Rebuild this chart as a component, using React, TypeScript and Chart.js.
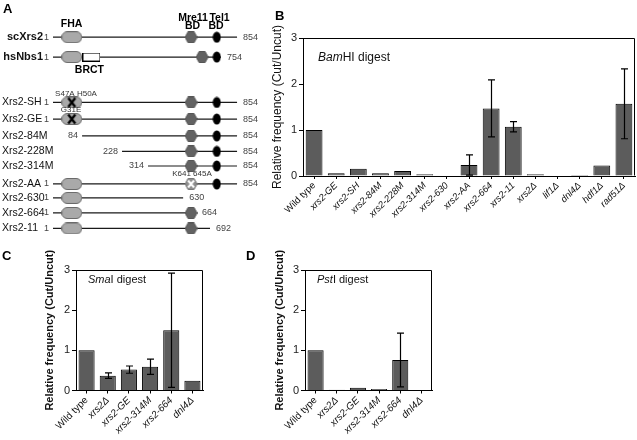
import React, { useEffect, useRef } from 'react';
import { Chart, registerables } from 'chart.js';

Chart.register(...registerables);

const FONT = '"Liberation Sans", Arial, Helvetica, sans-serif';

// ---------- Panel A (schematic; x in schematic units: 0 = residue 1, 100 = full-length end) ----------
const constructNames = ['scXrs2', 'hsNbs1', 'Xrs2-SH', 'Xrs2-GE', 'Xrs2-84M', 'Xrs2-228M', 'Xrs2-314M', 'Xrs2-AA', 'Xrs2-630', 'Xrs2-664', 'Xrs2-11'];
const constructRows = [0, 1.28, 4.21, 5.28, 6.37, 7.37, 8.31, 9.47, 10.37, 11.34, 12.34];
const startLabels = ['1', '1', '1', '1', '84', '228', '314', '1', '1', '1', '1'];
const endLabels = ['854', '754', '854', '854', '854', '854', '854', '854', '630', '664', '692'];
const lineStart = [0, 0, 0, 0, 15.8, 37.5, 51.6, 0, 0, 0, 0];
const lineEnd = [100, 91.3, 100, 100, 100, 100, 100, 100, 70.7, 77.7, 85.3];
const fhaPos = [10.2, 10.2, 10.2, 10.2, null, null, null, 10.2, 10.2, 10.2, 10.2];
const fhaMutated = [false, false, true, true, false, false, false, false, false, false, false];
const mre11Pos = [75, 81, 75, 75, 75, 75, 75, 75, null, 75, 75];
const mre11Mutated = [false, false, false, false, false, false, false, true, false, false, false];
const tel1Pos = [89, 89, 89, 89, 89, 89, 89, 89, null, null, null];
const brctPos = [null, 20.9, null, null, null, null, null, null, null, null, null];
const headerLabels = ['FHA', 'Mre11', 'Tel1', 'BD', 'BD', 'BRCT'];
const headerX = [10.05, 76.1, 90.5, 75.8, 88.6, 19.8];
const headerY = [-0.82, -1.24, -1.24, -0.74, -0.74, 2.12];
const mutationLabels = ['S47A H50A', 'G31E', 'K641 645A'];
const mutationX = [12.5, 9.8, 75.5];
const mutationY = [3.66, 4.7, 8.83];
const nameLeftX = -27.7;
const nameRightX = -5.4;

// ---------- Panel B ----------
const bCategories = ['Wild type', 'xrs2-GE', 'xrs2-SH', 'xrs2-84M', 'xrs2-228M', 'xrs2-314M', 'xrs2-630', 'xrs2-AA', 'xrs2-664', 'xrs2-11', 'xrs2Δ', 'lif1Δ', 'dnl4Δ', 'hdf1Δ', 'rad51Δ'];
const bValues = [1, 0.06, 0.16, 0.06, 0.11, 0.04, 0.01, 0.24, 1.47, 1.07, 0.04, 0.01, 0.02, 0.23, 1.57];
const bErrors = [0, 0, 0, 0, 0, 0, 0, 0.22, 0.62, 0.11, 0, 0, 0, 0, 0.76];
const bTitle = ['Bam', 'HI digest'];

// ---------- Panel C ----------
const cCategories = ['Wild type', 'xrs2Δ', 'xrs2-GE', 'xrs2-314M', 'xrs2-664', 'dnl4Δ'];
const cValues = [1, 0.37, 0.52, 0.59, 1.5, 0.24];
const cErrors = [0, 0.07, 0.09, 0.19, 1.42, 0];
const cTitle = ['Sma', 'I digest'];

// ---------- Panel D ----------
const dCategories = ['Wild type', 'xrs2Δ', 'xrs2-GE', 'xrs2-314M', 'xrs2-664', 'dnl4Δ'];
const dValues = [1, 0.02, 0.07, 0.04, 0.76, 0];
const dErrors = [0, 0, 0, 0, 0.67, 0];
const dTitle = ['Pst', 'I digest'];

const yTickValues = [0, 1, 2, 3];
const yAxisTitle = 'Relative frequency (Cut/Uncut)';

// ---------- shape sprites ----------
function makeCanvas(w: number, h: number) {
  const c = document.createElement('canvas');
  c.width = w;
  c.height = h;
  return c;
}
function ovalSprite(withX: boolean) {
  const c = makeCanvas(21, 12);
  const g = c.getContext('2d')!;
  g.beginPath();
  g.roundRect(0.5, 0.5, 20, 11, 5.5);
  g.fillStyle = '#a9a9a9';
  g.fill();
  g.strokeStyle = '#6a6a6a';
  g.lineWidth = 1;
  g.stroke();
  if (withX) {
    g.strokeStyle = '#000';
    g.lineWidth = 2.4;
    g.beginPath();
    g.moveTo(7, 1.5); g.lineTo(14, 10.5);
    g.moveTo(14, 1.5); g.lineTo(7, 10.5);
    g.stroke();
  }
  return c;
}
function hexSprite(mutated: boolean) {
  const c = makeCanvas(13, 12);
  const g = c.getContext('2d')!;
  g.beginPath();
  g.moveTo(0.5, 6); g.lineTo(3.5, 0.5); g.lineTo(9.5, 0.5); g.lineTo(12.5, 6); g.lineTo(9.5, 11.5); g.lineTo(3.5, 11.5); g.closePath();
  g.fillStyle = mutated ? '#8e8e8e' : '#626262';
  g.fill();
  g.strokeStyle = mutated ? '#777' : '#555';
  g.stroke();
  if (mutated) {
    g.strokeStyle = '#fff';
    g.lineWidth = 2;
    g.beginPath();
    g.moveTo(3.5, 2.5); g.lineTo(9.5, 9.5);
    g.moveTo(9.5, 2.5); g.lineTo(3.5, 9.5);
    g.stroke();
  }
  return c;
}
function tel1Sprite() {
  const c = makeCanvas(9, 12);
  const g = c.getContext('2d')!;
  g.beginPath();
  g.ellipse(4.5, 6, 4, 5.5, 0, 0, Math.PI * 2);
  g.fillStyle = '#000';
  g.fill();
  return c;
}
function brctSprite() {
  const c = makeCanvas(18, 9);
  const g = c.getContext('2d')!;
  g.fillStyle = '#fff';
  g.fillRect(0.5, 0.5, 17, 8);
  g.strokeStyle = '#000';
  g.lineWidth = 1;
  g.strokeRect(0.5, 0.5, 17, 8);
  return c;
}

// ---------- plugins ----------
const panelLetterPlugin = {
  id: 'panelLetter',
  afterDraw(chart: any, _a: any, opts: any) {
    if (!opts || !opts.letter) return;
    const ctx = chart.ctx;
    ctx.save();
    ctx.font = `bold 13px ${FONT}`;
    ctx.fillStyle = '#000';
    ctx.textAlign = 'left';
    ctx.textBaseline = 'alphabetic';
    ctx.fillText(opts.letter, opts.x, opts.y);
    ctx.restore();
  },
};

const frameBoxPlugin = {
  id: 'frameBox',
  afterDraw(chart: any) {
    const { ctx, chartArea } = chart;
    const l = Math.round(chartArea.left) + 0.5;
    const r = Math.round(chartArea.right) - 0.5;
    const t = Math.round(chartArea.top) + 0.5;
    const b = Math.round(chartArea.bottom) - 0.5;
    ctx.save();
    ctx.strokeStyle = '#000';
    ctx.lineWidth = 1;
    ctx.beginPath();
    ctx.moveTo(l, t); ctx.lineTo(r, t); ctx.lineTo(r, b);
    ctx.stroke();
    ctx.restore();
  },
};

const errorBarsPlugin = {
  id: 'errorBars',
  afterDatasetsDraw(chart: any, _a: any, opts: any) {
    const errs: number[] = opts.errors || [];
    const meta = chart.getDatasetMeta(0);
    const values: number[] = chart.data.datasets[0].data;
    const y = chart.scales.y;
    const ctx = chart.ctx;
    ctx.save();
    ctx.strokeStyle = '#000';
    ctx.lineWidth = 1.2;
    errs.forEach((e, i) => {
      if (!e) return;
      const x = Math.round(meta.data[i].x) + 0.5;
      const hi = y.getPixelForValue(values[i] + e);
      const lo = y.getPixelForValue(Math.max(0, values[i] - e));
      const cap = 3.5;
      ctx.beginPath();
      ctx.moveTo(x, hi); ctx.lineTo(x, lo);
      ctx.moveTo(x - cap, hi); ctx.lineTo(x + cap, hi);
      ctx.moveTo(x - cap, lo); ctx.lineTo(x + cap, lo);
      ctx.stroke();
    });
    ctx.restore();
  },
};

const digestTitlePlugin = {
  id: 'digestTitle',
  afterDraw(chart: any, _a: any, opts: any) {
    if (!opts || !opts.parts) return;
    const { ctx, chartArea } = chart;
    ctx.save();
    ctx.fillStyle = '#111';
    ctx.textBaseline = 'middle';
    ctx.textAlign = 'left';
    let x = chartArea.left + opts.dx;
    const yy = chartArea.top + opts.dy;
    opts.parts.forEach((p: string, i: number) => {
      ctx.font = `${i === 0 ? 'italic ' : ''}${opts.size}px ${FONT}`;
      ctx.fillText(p, x, yy);
      x += ctx.measureText(p).width;
    });
    ctx.restore();
  },
};

const schematicTextPlugin = {
  id: 'schematicText',
  afterDatasetsDraw(chart: any) {
    const { ctx } = chart;
    const xs = chart.scales.x;
    const ys = chart.scales.y;
    const px = (v: number) => xs.getPixelForValue(v);
    const py = (v: number) => ys.getPixelForValue(v);
    ctx.save();
    ctx.textBaseline = 'middle';
    constructNames.forEach((name, i) => {
      const bold = i < 2;
      ctx.font = bold ? `bold 11px ${FONT}` : `10.5px ${FONT}`;
      ctx.fillStyle = '#111';
      ctx.textAlign = bold ? 'right' : 'left';
      ctx.fillText(name, px(bold ? nameRightX : nameLeftX), py(constructRows[i]));
      ctx.font = `9px ${FONT}`;
      ctx.fillStyle = '#444';
      ctx.textAlign = 'right';
      ctx.fillText(startLabels[i], px(lineStart[i]) - 4, py(constructRows[i]));
      ctx.textAlign = 'left';
      ctx.fillText(endLabels[i], px(lineEnd[i]) + 6, py(constructRows[i]));
    });
    ctx.fillStyle = '#000';
    ctx.textAlign = 'center';
    headerLabels.forEach((t, i) => {
      ctx.font = `bold 10.5px ${FONT}`;
      ctx.fillText(t, px(headerX[i]), py(headerY[i]));
    });
    ctx.fillStyle = '#333';
    mutationLabels.forEach((t, i) => {
      ctx.font = `8px ${FONT}`;
      ctx.fillText(t, px(mutationX[i]), py(mutationY[i]));
    });
    ctx.restore();
  },
};

// ---------- configs ----------
function schematicConfig(): any {
  const lineSets = constructNames.map((_, i) => ({
    type: 'line',
    data: [
      { x: lineStart[i], y: constructRows[i] },
      { x: lineEnd[i], y: constructRows[i] },
    ],
    borderColor: '#1a1a1a',
    borderWidth: 1.2,
    pointRadius: 0,
    showLine: true,
    order: 5,
  }));
  const pts = (pos: (number | null)[], pred: (i: number) => boolean) =>
    pos.map((p, i) => (p !== null && pred(i) ? { x: p, y: constructRows[i] } : null)).filter(Boolean);
  const domain = (data: any[], sprite: HTMLCanvasElement) => ({
    type: 'scatter',
    data,
    pointStyle: sprite,
    pointRadius: 6,
    showLine: false,
    order: 1,
  });
  return {
    type: 'scatter',
    data: {
      datasets: [
        domain(pts(fhaPos, (i) => !fhaMutated[i]), ovalSprite(false)),
        domain(pts(fhaPos, (i) => fhaMutated[i]), ovalSprite(true)),
        domain(pts(mre11Pos, (i) => !mre11Mutated[i]), hexSprite(false)),
        domain(pts(mre11Pos, (i) => mre11Mutated[i]), hexSprite(true)),
        domain(pts(tel1Pos, () => true), tel1Sprite()),
        domain(pts(brctPos, () => true), brctSprite()),
        ...lineSets,
      ],
    },
    options: {
      responsive: false,
      animation: false,
      layout: { padding: 0, autoPadding: false },
      plugins: {
        legend: { display: false },
        tooltip: { enabled: false },
        panelLetter: { letter: 'A', x: 3, y: 13 },
      },
      scales: {
        x: { type: 'linear', display: false, min: -28.8, max: 117.9 },
        y: { type: 'linear', display: false, reverse: true, min: -2.4, max: 13.73 },
      },
    },
    plugins: [schematicTextPlugin, panelLetterPlugin],
  };
}

function barConfig(p: any): any {
  return {
    type: 'bar',
    data: {
      labels: p.labels,
      datasets: [
        {
          data: p.values,
          backgroundColor: '#5c5c5c',
          borderColor: '#000',
          borderWidth: 1,
          barPercentage: 0.76,
          categoryPercentage: 1,
        },
      ],
    },
    options: {
      responsive: false,
      animation: false,
      layout: { padding: p.padding, autoPadding: false },
      plugins: {
        legend: { display: false },
        tooltip: { enabled: false },
        errorBars: { errors: p.errors },
        digestTitle: { parts: p.title, dx: p.titleDx, dy: p.titleDy, size: p.titleSize },
        panelLetter: p.letter,
      },
      scales: {
        x: {
          grid: { display: true, offset: false, drawOnChartArea: false, drawTicks: true, tickLength: 3, color: '#000', lineWidth: 1 },
          border: { display: true, color: '#000', width: 1 },
          ticks: {
            autoSkip: false,
            maxRotation: 45,
            minRotation: 45,
            padding: 1,
            color: '#111',
            font: (ctx: any) => ({ family: FONT, size: p.xFontSize, style: ctx.index === 0 ? 'normal' : 'italic' }),
          },
          afterFit: (s: any) => { s.height = p.xAxisHeight; },
        },
        y: {
          min: 0,
          max: 3,
          afterBuildTicks: (s: any) => { s.ticks = yTickValues.map((v) => ({ value: v })); },
          grid: { display: true, drawOnChartArea: false, drawTicks: true, tickLength: 4, color: '#000', lineWidth: 1 },
          border: { display: true, color: '#000', width: 1 },
          ticks: { padding: 2, color: '#222', font: { family: FONT, size: 11 } },
          title: {
            display: true,
            text: yAxisTitle,
            color: '#111',
            font: { family: FONT, size: p.yTitleSize, weight: p.yTitleBold ? 'bold' : 'normal' },
            padding: { top: p.yTitlePad, bottom: 0 },
          },
          afterFit: (s: any) => { s.width = p.yAxisWidth; },
        },
      },
    },
    plugins: [errorBarsPlugin, frameBoxPlugin, digestTitlePlugin, panelLetterPlugin],
  };
}

export default function App() {
  const aRef = useRef<HTMLCanvasElement>(null);
  const bRef = useRef<HTMLCanvasElement>(null);
  const cRef = useRef<HTMLCanvasElement>(null);
  const dRef = useRef<HTMLCanvasElement>(null);

  useEffect(() => {
    const charts: Chart[] = [];
    charts.push(new Chart(aRef.current!, schematicConfig()));
    charts.push(
      new Chart(
        bRef.current!,
        barConfig({
          labels: bCategories, values: bValues, errors: bErrors, title: bTitle,
          titleDx: 15, titleDy: 20, titleSize: 12,
          padding: { top: 38, right: 2, left: 0, bottom: 4 },
          xAxisHeight: 70, yAxisWidth: 43, xFontSize: 9.5,
          yTitleSize: 12, yTitleBold: false, yTitlePad: 10,
          letter: { letter: 'B', x: 15, y: 20 },
        })
      )
    );
    charts.push(
      new Chart(
        cRef.current!,
        barConfig({
          labels: cCategories, values: cValues, errors: cErrors, title: cTitle,
          titleDx: 12, titleDy: 10, titleSize: 11,
          padding: { top: 25, right: 12, left: 0, bottom: 4.5 },
          xAxisHeight: 45, yAxisWidth: 76, xFontSize: 10,
          yTitleSize: 11, yTitleBold: true, yTitlePad: 43.4,
          letter: { letter: 'C', x: 2, y: 15 },
        })
      )
    );
    charts.push(
      new Chart(
        dRef.current!,
        barConfig({
          labels: dCategories, values: dValues, errors: dErrors, title: dTitle,
          titleDx: 12, titleDy: 10, titleSize: 11,
          padding: { top: 25, right: 18, left: 0, bottom: 4.5 },
          xAxisHeight: 45, yAxisWidth: 90, xFontSize: 10,
          yTitleSize: 11, yTitleBold: true, yTitlePad: 58.4,
          letter: { letter: 'D', x: 31, y: 15 },
        })
      )
    );
    return () => charts.forEach((c) => c.destroy());
  }, []);

  const abs = (left: number, top: number): React.CSSProperties => ({ position: 'absolute', left, top });
  return (
    <div style={{ position: 'absolute', left: 0, top: 0, width: 637, height: 440, background: '#fff', overflow: 'hidden' }}>
      <canvas ref={aRef} width={270} height={250} style={abs(0, 0)} />
      <canvas ref={bRef} width={377} height={250} style={abs(260, 0)} />
      <canvas ref={cRef} width={215} height={195} style={abs(0, 245)} />
      <canvas ref={dRef} width={235} height={195} style={abs(215, 245)} />
    </div>
  );
}
